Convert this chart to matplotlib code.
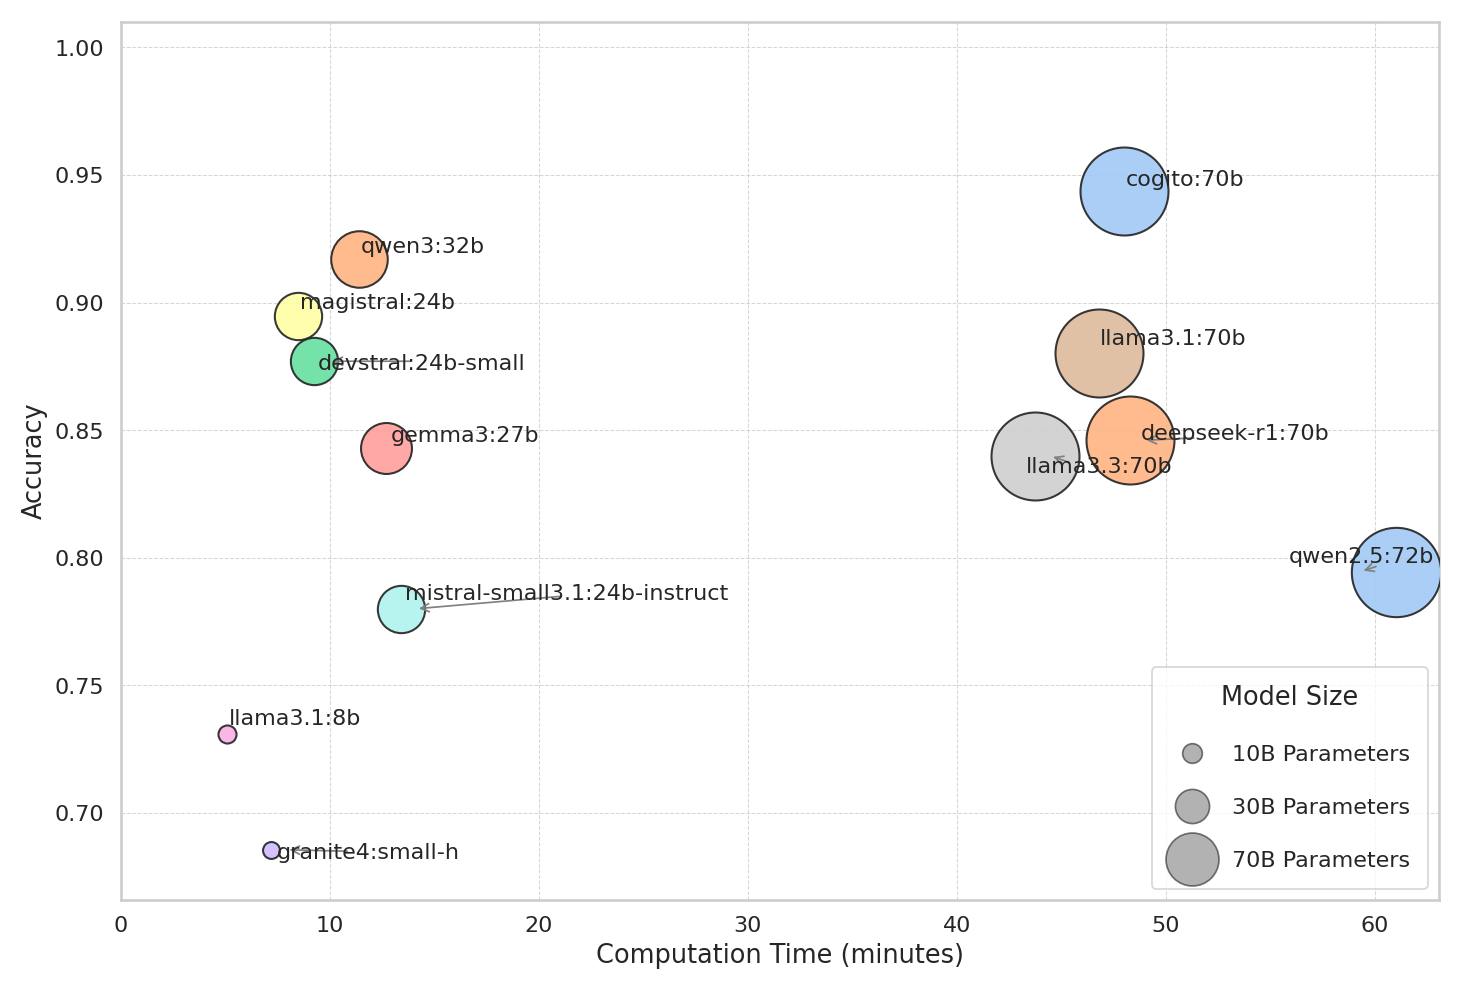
import matplotlib
matplotlib.use("Agg")
import matplotlib.pyplot as plt
import seaborn as sns
from matplotlib.lines import Line2D

sns.set_theme(style="whitegrid")

models = ["cogito:70b", "qwen3:32b", "magistral:24b", "devstral:24b-small", "gemma3:27b",
          "mistral-small3.1:24b-instruct", "llama3.1:8b", "granite4:small-h",
          "llama3.1:70b", "deepseek-r1:70b", "llama3.3:70b", "qwen2.5:72b"]
time_min = [48.0, 11.4, 8.46, 9.26, 12.7, 13.4, 5.1, 7.2, 46.8, 48.3, 43.75, 61.0]
accuracy = [0.9435, 0.917, 0.8947, 0.877, 0.843, 0.780, 0.731, 0.6856, 0.8803, 0.846, 0.840, 0.7945]
params_b = [70, 32, 24, 24, 27, 24, 8, 7, 70, 70, 70, 72]
colors = ["#a1c9f4", "#ffb482", "#fffea3", "#66e0a0", "#ff9f9b", "#b0f2ee", "#fab0e4",
          "#d0bbff", "#debb9b", "#ffb482", "#cfcfcf", "#a1c9f4"]
# label position (x, y) and optional arrow start
label_x = [48.1, 11.47, 8.55, 9.4, 12.9, 13.58, 5.17, 7.47, 46.85, 48.78, 43.3, 55.87]
label_y = [0.948, 0.922, 0.9001, 0.876, 0.8478, 0.7858, 0.737, 0.6845, 0.8858, 0.8486, 0.8358, 0.8003]
arrow_from = {3: (14.0, 0.877), 5: (21.2, 0.785), 7: (11.0, 0.685), 9: (51.5, 0.847),
              10: (45.5, 0.837), 11: (60.2, 0.797)}

fig, ax = plt.subplots(figsize=(12, 8.06), dpi=123)

sizes = [41 * p - 217 if p > 10 else 14 * p for p in params_b]
order = sorted(range(len(models)), key=lambda i: -sizes[i])
for i in order:
    ax.scatter(time_min[i], accuracy[i], s=sizes[i], color=colors[i], alpha=0.9,
               edgecolor="#222222", linewidth=1.2, zorder=3)

for i, m in enumerate(models):
    ax.text(label_x[i], label_y[i], m, fontsize=13, ha="left", va="center",
            color="#262626", zorder=5)
    if i in arrow_from:
        ax.annotate("", xy=(time_min[i] + (0.7 if i in (3, 5, 7, 10) else -1.7 if i == 11 else 0.6),
                            accuracy[i]),
                    xytext=arrow_from[i],
                    arrowprops=dict(arrowstyle="->", color="gray", lw=1), zorder=4)

ax.set_xlim(0, 63.06)
ax.set_ylim(0.666, 1.01)
ax.set_xlabel("Computation Time (minutes)", fontsize=15)
ax.set_ylabel("Accuracy", fontsize=15)
ax.tick_params(labelsize=13)
ax.grid(True, linestyle="--", linewidth=0.6, alpha=0.8)
for sp in ax.spines.values():
    sp.set_color("#cccccc")
    sp.set_linewidth(1.5)

handles = [Line2D([], [], marker="o", linestyle="", markersize=ms, markerfacecolor="gray",
                  markeredgecolor="#222222", alpha=0.6, label=lab)
           for ms, lab in [(11.5, "10B Parameters"), (20, "30B Parameters"), (31, "70B Parameters")]]
ax.legend(handles=handles, title="Model Size", loc="lower right", fontsize=13,
          title_fontsize=15, labelspacing=1.5, borderpad=0.8, frameon=True)

fig.tight_layout()
fig.savefig("out.png", dpi=123)
